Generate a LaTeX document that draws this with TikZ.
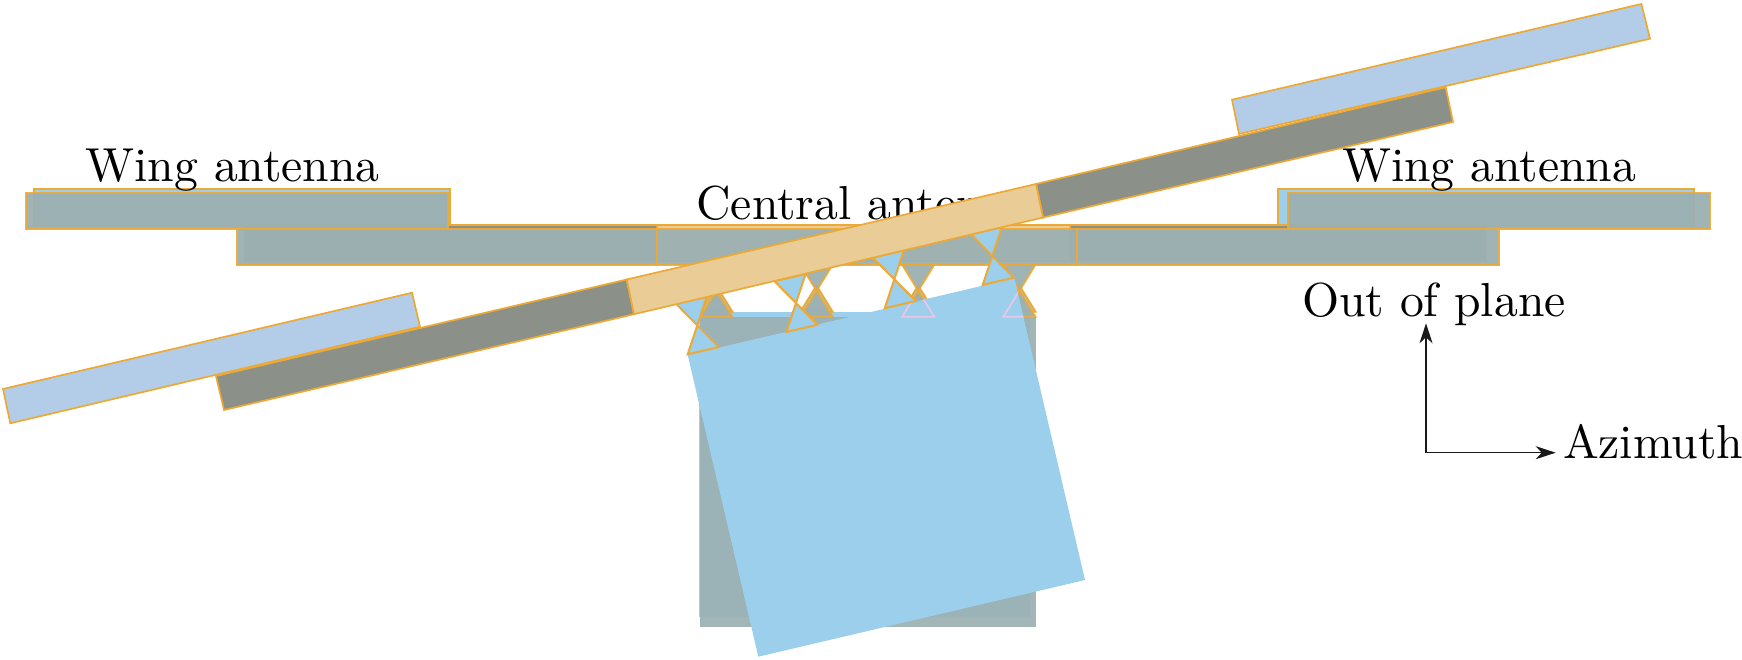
\documentclass[tikz,border=0pt]{standalone}
\usepackage{fontspec}
\setmainfont[Extension=.otf]{lmroman10-regular}
\usetikzlibrary{arrows.meta}
\definecolor{sky}{HTML}{9BCFEC}
\definecolor{wingblue}{HTML}{B3CDE9}
\definecolor{darkgrey}{HTML}{8B9088}
\definecolor{beige}{HTML}{E9CC96}
\definecolor{edgeor}{HTML}{EDA935}
\definecolor{ghostgrey}{HTML}{9CB0B2}
\definecolor{pinkline}{HTML}{E6C8E6}
\tikzset{
  x=1pt,y=-1pt,
  edged/.style={draw=edgeor,line width=2pt,line join=miter},
  ghostsky/.style={edged,fill=sky},
  ghostdark/.style={edged,fill=darkgrey},
  ghostbeige/.style={edged,fill=beige},
  over/.style={edged,fill=ghostgrey,fill opacity=0.96,draw opacity=0.9},
  barfill/.style={draw=edgeor,line width=1.7pt,line join=miter},
  txt/.style={anchor=base west,inner sep=0pt,outer sep=0pt,font=\fontsize{47.7}{50}\selectfont},
  axisarrow/.style={draw=black!90,line width=1.4pt,-{Stealth[length=20pt,width=13pt,inset=6pt]}},
}
\begin{document}
\begin{tikzpicture}
\useasboundingbox (0,0) rectangle (1742,660);
% undisplaced ghost layer
\fill[sky] (699,312) rectangle (1030,617);
\fill[ghostgrey,fill opacity=0.93] (700,317) rectangle (1036,627);
\draw[ghostsky] (34,189.5) rectangle (449.5,226);
\draw[ghostsky] (1278,189.5) rectangle (1693.5,226);
\draw[ghostdark] (245,225) rectangle (657,261);
\draw[ghostdark] (1070,225) rectangle (1486,261);
\draw[ghostbeige] (657,225) rectangle (1070,261);
% undisplaced overlay
\draw[over] (26,193) rectangle (448,229);
\draw[over] (237,229.5) rectangle (657,265);
\draw[over] (657,229.5) rectangle (1077,265);
\draw[over] (1077,229.5) rectangle (1499,265);
\draw[over] (1288,193) rectangle (1710,229);
% undisplaced truss
\foreach \c in {716.3,816.5,918.2,1019.4}{
  \draw[ghostsky] (\c,285.7) -- ({\c-16},311.7) -- ({\c+16},311.7) -- cycle;
  \draw[over] (\c,290.7) -- ({\c-16},264.7) -- ({\c+16},264.7) -- cycle;
  \draw[over] (\c,290.7) -- ({\c-16},316.7) -- ({\c+16},316.7) -- cycle;
}
% displaced box
\fill[sky] (687.7,355) -- (1014.4,278.3) -- (1085,580) -- (758.3,656.7) -- cycle;
\begin{scope}
  \clip (687.7,355) -- (1014.4,278.3) -- (1085,580) -- (758.3,656.7) -- cycle;
  \foreach \c in {918.2,1019.4}{
    \draw[pinkline,line width=1.8pt] (\c,290.7) -- ({\c-16},316.7) -- ({\c+16},316.7) -- cycle;
  }
\end{scope}
% displaced truss
\foreach \ax/\ay in {697.3/325.3,796/303,894.3/279.3,992.3/256}{
  \draw[ghostsky] (\ax,\ay) -- ({\ax-21.5},{\ay-21.7}) -- ({\ax+9.6},{\ay-29}) -- cycle;
  \draw[ghostsky] (\ax,\ay) -- ({\ax-9.6},{\ay+29}) -- ({\ax+21.5},{\ay+21.7}) -- cycle;
}
% labels
\node[txt] (wingl) at (85.5,181.5) {Wing antenna};
\node[txt] (wingr) at (1342,181.5) {Wing antenna};
\node[txt] (central) at (696.5,219.3) {Central antenna};
\node[txt] (oop) at (1302,316.3) {Out of plane};
\node[txt] (azi) at (1563,458.3) {Azimuth};
% displaced antenna
\draw[barfill,fill=wingblue] (3,389) -- (412,292.7) -- (420,326.7) -- (10.3,423.3) -- cycle;
\draw[barfill,fill=wingblue] (1232,99.7) -- (1641.4,4) -- (1650,38.7) -- (1239,134) -- cycle;
\draw[barfill,fill=darkgrey] (216,376) -- (626.7,279.5) -- (634,314.2) -- (224,410) -- cycle;
\draw[barfill,fill=darkgrey] (1036,184) -- (1445.7,87.3) -- (1453,122) -- (1043,217.5) -- cycle;
\draw[barfill,fill=beige] (626.7,279.5) -- (1036,184) -- (1043,217.5) -- (634,314.2) -- cycle;
% axes
\coordinate (origin) at (1426,452.7);
\coordinate (uptip) at (1426,323.3);
\coordinate (righttip) at (1555.7,452.7);
\draw[axisarrow] (origin) -- (uptip);
\draw[axisarrow] (origin) -- (righttip);
\end{tikzpicture}
\end{document}
